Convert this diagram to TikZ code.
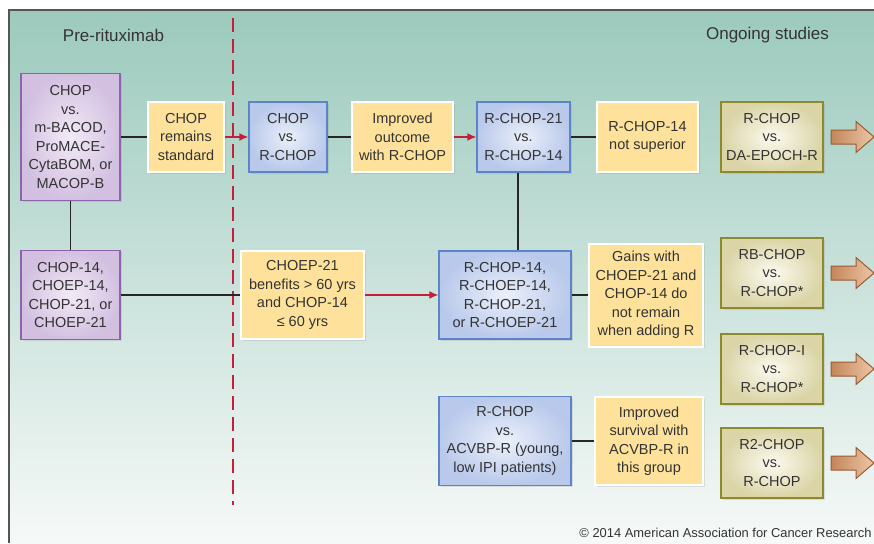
\documentclass[tikz,border=0pt]{standalone}
\usepackage{fontspec}
\setmainfont{Liberation Sans}
\usetikzlibrary{arrows.meta, shadows}
\definecolor{txt}{HTML}{333333}
\definecolor{bgtop}{HTML}{9CCABD}
\definecolor{bgmid}{HTML}{BCDCD3}
\definecolor{bgbot}{HTML}{F6F9F8}
\definecolor{frame}{HTML}{555555}
\definecolor{redline}{HTML}{C51F3B}
\definecolor{purpleline}{HTML}{8F62AE}
\definecolor{purplein}{HTML}{F2EAF6}
\definecolor{purpleout}{HTML}{D3C0E1}
\definecolor{blueline}{HTML}{5B85C8}
\definecolor{bluein}{HTML}{EBF0FA}
\definecolor{blueout}{HTML}{B9C9EB}
\definecolor{yellowfill}{HTML}{FEE29C}
\definecolor{oliveline}{HTML}{8C8A2C}
\definecolor{olivein}{HTML}{FCFAF0}
\definecolor{oliveout}{HTML}{DAD4A6}
\definecolor{brownline}{HTML}{9A5A32}
\definecolor{brownin}{HTML}{EDC6A6}
\definecolor{brownout}{HTML}{C4855A}

\tikzstyle{box} = [rectangle, align=center, inner sep=2pt, text=txt,
                 font=\fontsize{14.5}{18.5}\selectfont,
                 drop shadow={shadow xshift=1.5pt, shadow yshift=-1.5pt, opacity=0.2}]
\tikzstyle{pretrial} = [box, draw=purpleline, line width=1.5pt,
                 inner color=purplein, outer color=purpleout, minimum width=99pt]
\tikzstyle{rtrial} = [box, draw=blueline, line width=1.3pt,
                 inner color=bluein, outer color=blueout]
\tikzstyle{result} = [box, draw=white, line width=2pt, fill=yellowfill]
\tikzstyle{study} = [box, draw=oliveline, line width=2pt,
                 inner color=olivein, outer color=oliveout,
                 minimum width=102pt, minimum height=70pt]
\tikzset{
	link/.style={draw=black!85, line width=1.5pt},
	gain/.style={draw=redline, line width=1.5pt, -{Latex[length=9pt,width=8pt]}},
	heading/.style={text=txt, font=\fontsize{17}{20}\selectfont},
	onward/.style={draw=brownline, line width=1pt, left color=brownout, right color=brownin},
}

\begin{document}
\begin{tikzpicture}[x=1pt, y=-1pt]
\useasboundingbox (0,0) rectangle (874,543);

\fill[top color=bgtop, middle color=bgmid, bottom color=bgbot] (9,10) rectangle (874,543);
\draw[frame, line width=1.5pt] (9,543) -- (9,10) -- (874,10);

\draw[redline, line width=2pt, dash pattern=on 14pt off 7pt] (233,18) -- (233,505);

\node [heading] at (113.5,35) (pre) {Pre-rituximab};
\node [heading] at (767.5,35) (ongoing) {Ongoing studies};

\node [pretrial, minimum height=127pt] at (70.5,137) (pre1)
	{CHOP\\vs.\\m-BACOD,\\ProMACE-\\CytaBOM, or\\MACOP-B};
\node [pretrial, minimum height=89pt] at (70.5,295) (pre2)
	{CHOP-14,\\CHOEP-14,\\CHOP-21, or\\CHOEP-21};

\node [result, minimum width=76pt, minimum height=70pt] at (186,137) (res1)
	{CHOP\\remains\\standard};
\node [rtrial, minimum width=78pt, minimum height=70pt] at (288,137) (rtrial1)
	{CHOP\\vs.\\R-CHOP};
\node [result, minimum width=101pt, minimum height=70pt] at (402.5,137) (res2)
	{Improved\\outcome\\with R-CHOP};
\node [rtrial, minimum width=93pt, minimum height=70pt] at (523.5,137) (rtrial2)
	{R-CHOP-21\\vs.\\R-CHOP-14};
\node [result, minimum width=101pt, minimum height=70pt] at (647.5,137) (res3)
	{R-CHOP-14\\not superior};

\node [result, minimum width=123pt, minimum height=88pt] at (302.5,295) (res4)
	{CHOEP-21\\benefits > 60 yrs\\and CHOP-14\\≤ 60 yrs};
\node [rtrial, minimum width=132pt, minimum height=88pt] at (505,295) (rtrial3)
	{R-CHOP-14,\\R-CHOEP-14,\\R-CHOP-21,\\or R-CHOEP-21};
\node [result, minimum width=114pt, minimum height=103pt] at (646,295) (res5)
	{Gains with\\CHOEP-21 and\\CHOP-14 do\\not remain\\when adding R};

\node [rtrial, minimum width=132pt, minimum height=89pt] at (505,441) (rtrial4)
	{R-CHOP\\vs.\\ACVBP-R (young,\\low IPI patients)};
\node [result, minimum width=108pt, minimum height=88pt] at (649,441) (res6)
	{Improved\\survival with\\ACVBP-R in\\this group};

\node [study] at (772,137) (study1) {R-CHOP\\vs.\\DA-EPOCH-R};
\node [study] at (772,273) (study2) {RB-CHOP\\vs.\\R-CHOP*};
\node [study] at (772,369) (study3) {R-CHOP-I\\vs.\\R-CHOP*};
\node [study] at (772,463) (study4) {R2-CHOP\\vs.\\R-CHOP};

\path [link] (pre1.south) -- (pre2.north);
\path [link] (pre1.east) -- (res1.west);
\path [gain] (res1.east) -- (rtrial1.west);
\path [link] (rtrial1.east) -- (res2.west);
\path [gain] (res2.east) -- (rtrial2.west);
\path [link] (rtrial2.east) -- (res3.west);
\path [link] ([xshift=-5.5pt]rtrial2.south) -- ([xshift=-5.5pt]rtrial2.south |- rtrial3.north);
\path [link] (pre2.east) -- (res4.west);
\path [gain] (res4.east) -- (rtrial3.west);
\path [link] (rtrial3.east) -- (res5.west);
\path [link] (rtrial4.east) -- (res6.west);

	%arrows out of the picture
\foreach \s in {study1, study2, study3, study4}
	\path [onward] ([xshift=7pt]\s.east) ++(0,-7) -- ++(25,0) -- ++(0,-8.5)
		-- ++(18,15.5) -- ++(-18,15.5) -- ++(0,-8.5) -- ++(-25,0) -- cycle;

\node [anchor=east, text=txt, font=\fontsize{12.9}{15}\selectfont] at (875,533) (copy)
	{© 2014 American Association for Cancer Research};
\end{tikzpicture}
\end{document}
